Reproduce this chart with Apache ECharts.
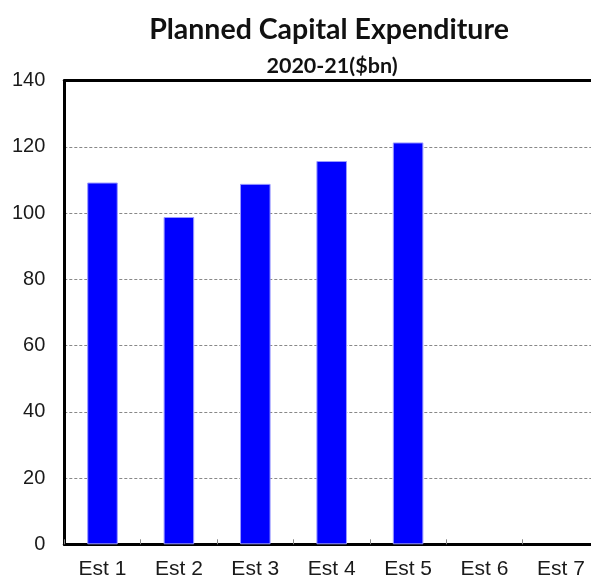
<!DOCTYPE html>
<html>
<head>
<meta charset="utf-8">
<script src="https://cdn.jsdelivr.net/npm/echarts@6/dist/echarts.min.js"></script>
<style>
html,body{margin:0;padding:0;background:#fff;}
#chart{width:591px;height:579px;}
</style>
</head>
<body>
<div id="chart"></div>
<script>
const categories = ['Est 1','Est 2','Est 3','Est 4','Est 5','Est 6','Est 7'];
const values = [109.2, 98.8, 108.8, 115.7, 121.3, null, null];
const titleText = 'Planned Capital Expenditure';
const subtitleText = '2020-21($bn)';

const chart = echarts.init(document.getElementById('chart'), null, {renderer:'canvas'});
chart.setOption({
  animation: false,
  backgroundColor: '#ffffff',
  title: [
    {text: titleText, left: 324, top: 10, textAlign: 'center',
     textStyle: {fontFamily: 'Lato', fontWeight: 'bold', fontSize: 28.5, color: '#111'}},
    {text: subtitleText, left: 327, top: 50, textAlign: 'center',
     textStyle: {fontFamily: 'Lato', fontWeight: 'bold', fontSize: 21.5, color: '#111'}}
  ],
  grid: {left: 64.3, top: 80.5, width: 534.8, bottom: 34.7, containLabel: false, outerBoundsMode: 'none'},
  xAxis: [
    {type: 'category', data: categories, position: 'bottom',
     axisLine: {lineStyle: {color: '#000', width: 3}},
     axisTick: {show: true, inside: true, length: 5, lineStyle: {color: '#888', width: 1}},
     axisLabel: {fontFamily: 'Liberation Sans', fontSize: 21, color: '#1a1a1a', margin: 14},
     splitLine: {show: false}},
    {type: 'category', data: categories, position: 'top',
     axisLine: {lineStyle: {color: '#000', width: 3}},
     axisTick: {show: false}, axisLabel: {show: false}}
  ],
  yAxis: {
    type: 'value', min: 0, max: 140, interval: 20,
    axisLine: {show: true, lineStyle: {color: '#000', width: 3}},
    axisTick: {show: false},
    axisLabel: {fontFamily: 'Liberation Sans', fontSize: 20, color: '#1a1a1a', margin: 19},
    splitLine: {show: true, lineStyle: {color: '#888', type: [3, 2], width: 1}}
  },
  series: [{
    type: 'bar', data: values, xAxisIndex: 0, barWidth: '40%',
    itemStyle: {color: '#0000ff', borderColor: '#9a9aff', borderWidth: 1}
  }]
});
</script>
</body>
</html>
